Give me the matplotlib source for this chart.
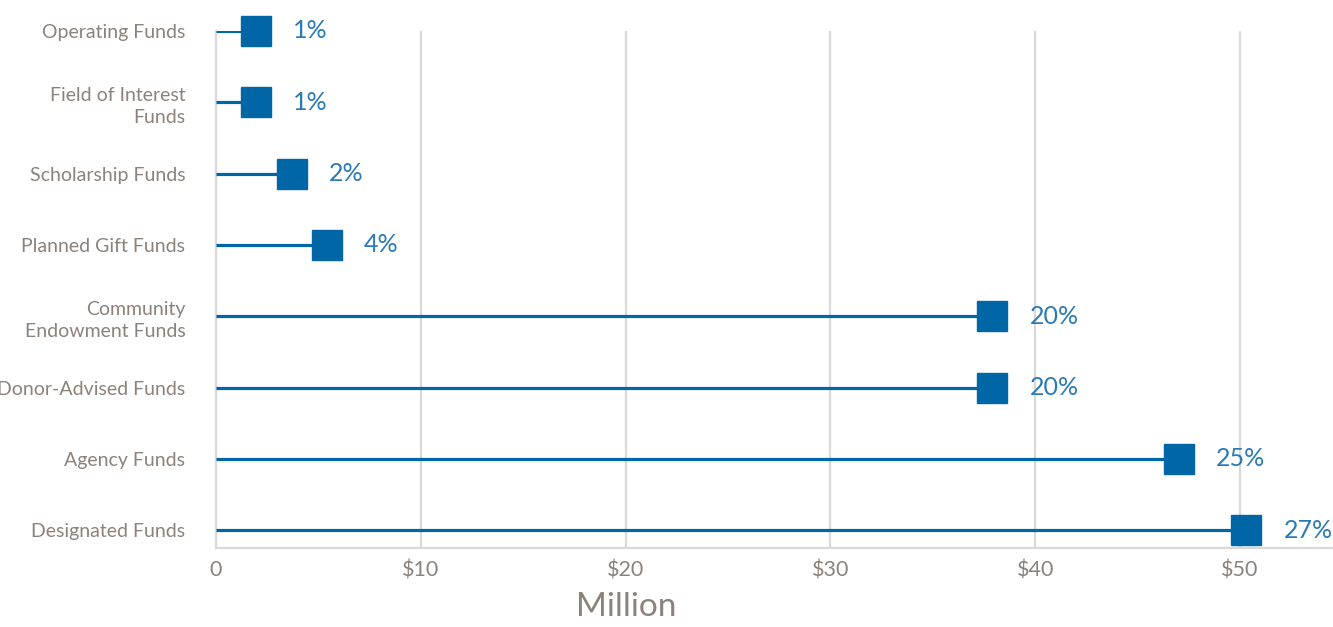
import matplotlib.pyplot as plt
from matplotlib.ticker import FixedLocator, FixedFormatter

# --- Data (bottom to top) ---
funds = ["Designated Funds", "Agency Funds", "Donor-Advised Funds",
         "Community\nEndowment Funds", "Planned Gift Funds",
         "Scholarship Funds", "Field of Interest\nFunds", "Operating Funds"]
amounts = [50.3, 47.0, 37.9, 37.9, 5.4, 3.7, 1.95, 1.95]  # $ million
shares = ["27%", "25%", "20%", "20%", "4%", "2%", "1%", "1%"]

x_ticks = [0, 10, 20, 30, 40, 50]
x_tick_labels = ["0", "$10", "$20", "$30", "$40", "$50"]

# --- Style ---
line_blue = "#0066A6"
label_blue = "#2A7AB8"
text_gray = "#8C827B"
grid_gray = "#D9D9D9"

plt.rcParams['font.family'] = ['Lato', 'DejaVu Sans']

fig = plt.figure(figsize=(13.33, 6.27), dpi=100)
ax = fig.add_axes([216 / 1333, 1 - 548 / 627, 1 - 216 / 1333, (548 - 31) / 627])

ypos = list(range(len(funds)))
ax.hlines(ypos, 0, amounts, color=line_blue, linewidth=2.3, zorder=3)
ax.plot(amounts, ypos, linestyle='none', marker='s', markersize=21.5,
        color=line_blue, clip_on=False, zorder=4)

for y, x, s in zip(ypos, amounts, shares):
    ax.annotate(s, (x, y), xytext=(27, 0), textcoords='offset points',
                ha='left', va='center', fontsize=18, color=label_blue,
                annotation_clip=False)

ax.set_xlim(0, (1333 - 216) / 20.48)
ax.set_ylim(-0.25, len(funds) - 1)

ax.xaxis.set_major_locator(FixedLocator(x_ticks))
ax.xaxis.set_major_formatter(FixedFormatter(x_tick_labels))
ax.set_yticks(ypos)
ax.set_yticklabels(funds, linespacing=1.35)

ax.grid(axis='x', color=grid_gray, linewidth=1.6, zorder=0)
ax.set_axisbelow(True)
ax.tick_params(axis='both', length=0, colors=text_gray)
ax.tick_params(axis='x', pad=9, labelsize=15.5)
ax.tick_params(axis='y', pad=22, labelsize=14)

for side in ['top', 'right']:
    ax.spines[side].set_visible(False)
for side in ['left', 'bottom']:
    ax.spines[side].set_color(grid_gray)
    ax.spines[side].set_linewidth(1.6)

ax.set_xlabel("Million", fontsize=24, color=text_gray, va='center')
ax.xaxis.set_label_coords(410 / (1333 - 216), -(607 - 548) / (548 - 31))

fig.savefig("out.png", dpi=100)
